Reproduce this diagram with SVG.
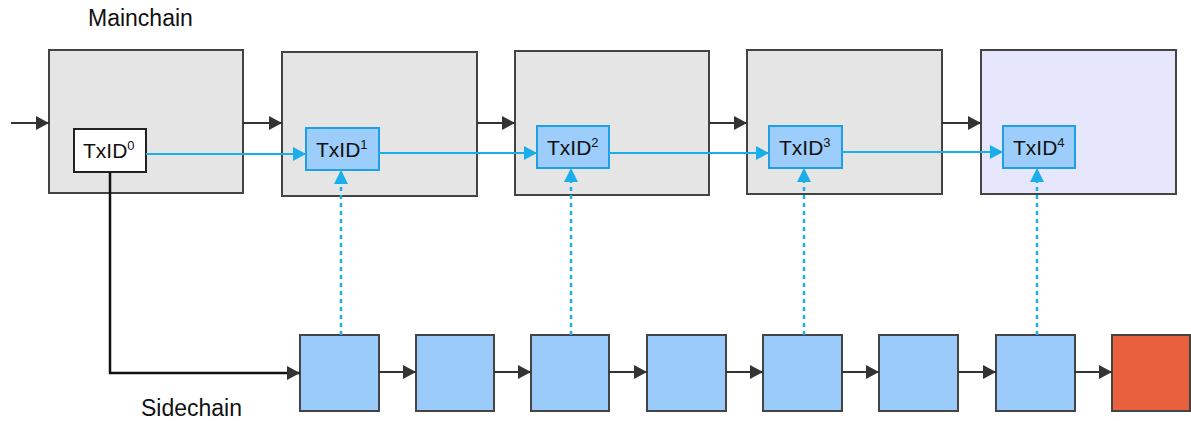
<svg xmlns="http://www.w3.org/2000/svg" width="1191" height="421" viewBox="0 0 1191 421">
<style>
.blk{fill:#e5e5e5;stroke:#444;stroke-width:2}
.blk4{fill:#e6e6fc;stroke:#444;stroke-width:2}
.tx{fill:#9dcdfb;stroke:#1e9fe6;stroke-width:2}
.tx0{fill:#fff;stroke:#222;stroke-width:2}
.sb{fill:#9bcbfb;stroke:#444;stroke-width:2}
.sr{fill:#e8603d;stroke:#444;stroke-width:2}
.lbl{font-family:"Liberation Sans",Arial,sans-serif;font-size:23px;fill:#111}
.txt{font-family:"Liberation Sans",Arial,sans-serif;font-size:21px;fill:#111}
.sup{font-size:13px}
.k{stroke:#333;stroke-width:2;fill:none}
.b{stroke:#1aaeea;stroke-width:2;fill:none}
.d{stroke:#1aaeea;stroke-width:2.5;fill:none;stroke-dasharray:4 4}
</style>
<defs>
<marker id="ak" markerUnits="userSpaceOnUse" markerWidth="13" markerHeight="14" refX="13" refY="7" orient="auto"><path d="M0,0 L13,7 L0,14 z" fill="#333"/></marker>
<marker id="ab" markerUnits="userSpaceOnUse" markerWidth="13" markerHeight="14" refX="13" refY="7" orient="auto"><path d="M0,0 L13,7 L0,14 z" fill="#1aaeea"/></marker>
</defs>
<text class="lbl" x="88" y="26">Mainchain</text>
<text class="lbl" x="141" y="416">Sidechain</text>
<g id="m0"><rect class="blk" x="49" y="50" width="194" height="143"/></g>
<g id="m1"><rect class="blk" x="282" y="52" width="195" height="144"/></g>
<g id="m2"><rect class="blk" x="515" y="51" width="194" height="144"/></g>
<g id="m3"><rect class="blk" x="747" y="50" width="195" height="144"/></g>
<g id="m4"><rect class="blk4" x="981" y="50" width="195" height="144"/></g>
<g id="t0"><rect class="tx0" x="74" y="129" width="72" height="43"/><text class="txt" x="83" y="158">TxID<tspan class="sup" dy="-8">0</tspan></text></g>
<g id="t1"><rect class="tx" x="306" y="128" width="73" height="42"/><text class="txt" x="316" y="157">TxID<tspan class="sup" dy="-8">1</tspan></text></g>
<g id="t2"><rect class="tx" x="537" y="126" width="72" height="42"/><text class="txt" x="547" y="155">TxID<tspan class="sup" dy="-8">2</tspan></text></g>
<g id="t3"><rect class="tx" x="769" y="126" width="73" height="42"/><text class="txt" x="779" y="155">TxID<tspan class="sup" dy="-8">3</tspan></text></g>
<g id="t4"><rect class="tx" x="1003" y="126" width="72" height="42"/><text class="txt" x="1013" y="155">TxID<tspan class="sup" dy="-8">4</tspan></text></g>
<g id="s1"><rect class="sb" x="300" y="335" width="79" height="76"/></g>
<g id="s2"><rect class="sb" x="416" y="335" width="78" height="76"/></g>
<g id="s3"><rect class="sb" x="531" y="335" width="78" height="76"/></g>
<g id="s4"><rect class="sb" x="647" y="335" width="79" height="76"/></g>
<g id="s5"><rect class="sb" x="763" y="335" width="79" height="76"/></g>
<g id="s6"><rect class="sb" x="879" y="335" width="79" height="76"/></g>
<g id="s7"><rect class="sb" x="996" y="335" width="79" height="76"/></g>
<g id="s8"><rect class="sr" x="1112" y="335" width="78" height="76"/></g>
<g id="connectors">
<line class="k" x1="11" y1="123" x2="49" y2="123" marker-end="url(#ak)"/>
<line class="k" x1="243" y1="123" x2="282" y2="123" marker-end="url(#ak)"/>
<line class="k" x1="477" y1="123" x2="515" y2="123" marker-end="url(#ak)"/>
<line class="k" x1="709" y1="123" x2="747" y2="123" marker-end="url(#ak)"/>
<line class="k" x1="942" y1="123" x2="981" y2="123" marker-end="url(#ak)"/>
<line class="b" x1="146" y1="154" x2="306" y2="154" marker-end="url(#ab)"/>
<line class="b" x1="379" y1="153" x2="537" y2="153" marker-end="url(#ab)"/>
<line class="b" x1="609" y1="153" x2="769" y2="153" marker-end="url(#ab)"/>
<line class="b" x1="842" y1="152" x2="1003" y2="152" marker-end="url(#ab)"/>
<path class="d" d="M341,335 V172"/>
<path class="d" d="M571,335 V170"/>
<path class="d" d="M804,335 V170"/>
<path class="d" d="M1037,335 V170"/>
<path d="M334,184 L341,170 L348,184 z" fill="#1aaeea"/>
<path d="M564,182 L571,168 L578,182 z" fill="#1aaeea"/>
<path d="M797,182 L804,168 L811,182 z" fill="#1aaeea"/>
<path d="M1030,182 L1037,168 L1044,182 z" fill="#1aaeea"/>
<path d="M110,172 V373 H300" stroke="#111" stroke-width="2.5" fill="none" marker-end="url(#ak)"/>
<line class="k" x1="379" y1="372" x2="416" y2="372" marker-end="url(#ak)"/>
<line class="k" x1="494" y1="372" x2="531" y2="372" marker-end="url(#ak)"/>
<line class="k" x1="609" y1="372" x2="647" y2="372" marker-end="url(#ak)"/>
<line class="k" x1="726" y1="372" x2="763" y2="372" marker-end="url(#ak)"/>
<line class="k" x1="842" y1="372" x2="879" y2="372" marker-end="url(#ak)"/>
<line class="k" x1="958" y1="372" x2="996" y2="372" marker-end="url(#ak)"/>
<line class="k" x1="1075" y1="372" x2="1112" y2="372" marker-end="url(#ak)"/>
</g>
</svg>
